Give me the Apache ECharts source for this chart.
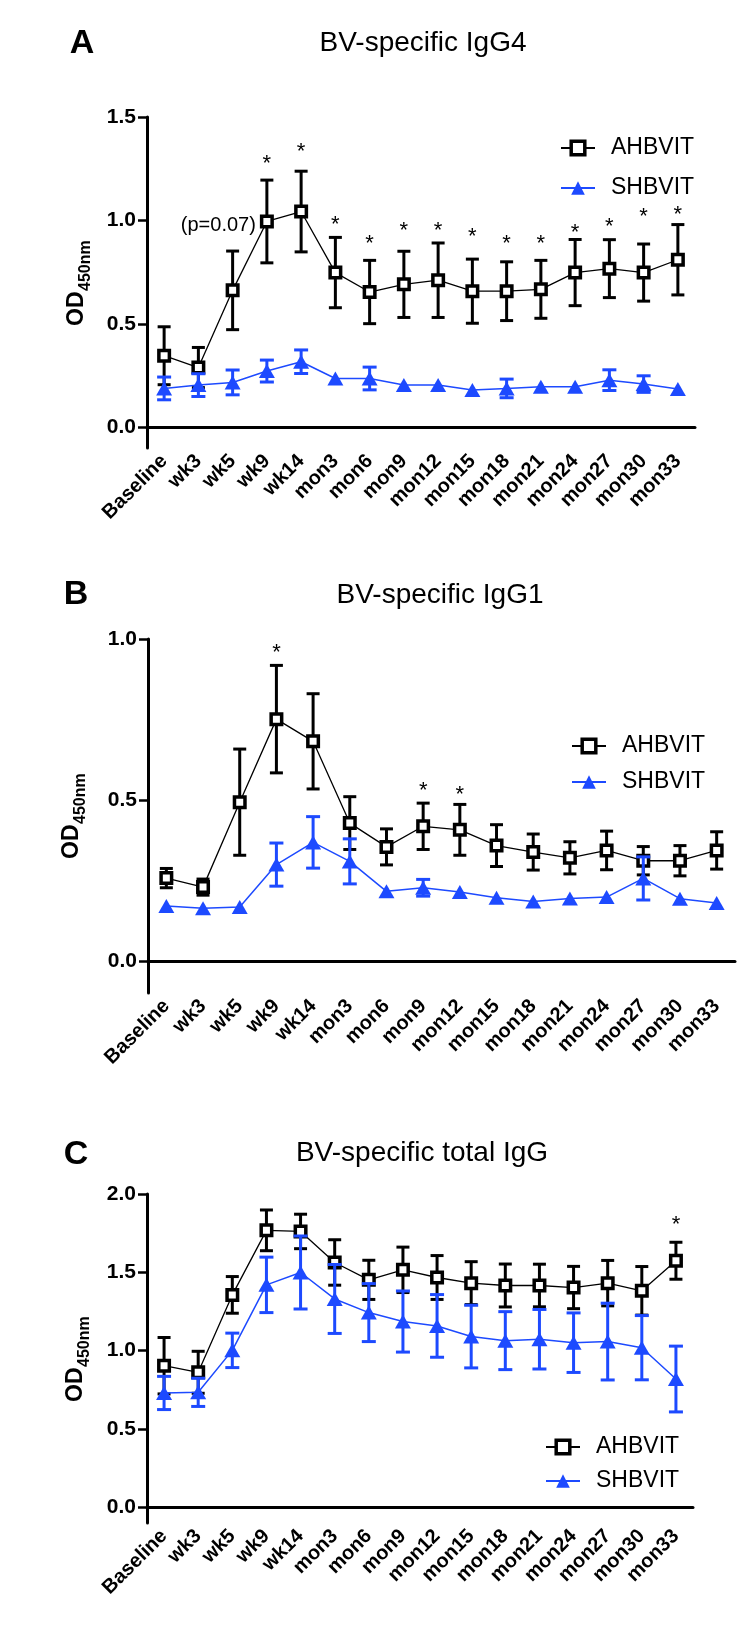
<!DOCTYPE html>
<html><head><meta charset="utf-8">
<script src="https://cdn.jsdelivr.net/npm/echarts@6/dist/echarts.min.js"></script>
<style>html,body{margin:0;padding:0;background:#fff}#c{width:750px;height:1635px}</style>
</head><body><div id="c"></div>
<script>
const categories = ['Baseline','wk3','wk5','wk9','wk14','mon3','mon6','mon9','mon12','mon15','mon18','mon21','mon24','mon27','mon30','mon33'];

// Panel A: BV-specific IgG4
const igg4AH = [0.346,0.289,0.662,0.995,1.043,0.748,0.654,0.691,0.711,0.658,0.658,0.667,0.748,0.767,0.748,0.810];
const igg4AHerr = [0.140,0.097,0.190,0.200,0.195,0.170,0.153,0.160,0.180,0.155,0.142,0.140,0.160,0.140,0.138,0.170];
const igg4SH = [0.188,0.204,0.217,0.272,0.317,0.236,0.236,0.204,0.204,0.180,0.188,0.196,0.196,0.228,0.209,0.185];
const igg4SHerr = [0.055,0.055,0.060,0.053,0.057,0,0.055,0,0,0,0.045,0,0,0.050,0.040,0];
const igg4Stars = [null,null,null,1.295,1.356,1.003,0.910,0.971,0.971,0.944,0.912,0.910,0.966,0.995,1.043,1.051];
const igg4Note = ['wk9', 0.975, '(p=0.07)'];
const igg4Ticks = [0, 0.5, 1.0, 1.5];

// Panel B: BV-specific IgG1
const igg1AH = [0.257,0.229,0.493,0.751,0.682,0.428,0.354,0.418,0.407,0.358,0.338,0.320,0.343,0.311,0.311,0.343];
const igg1AHerr = [0.030,0.025,0.165,0.167,0.148,0.082,0.056,0.072,0.079,0.065,0.056,0.050,0.060,0.044,0.047,0.058];
const igg1SH = [0.170,0.163,0.167,0.299,0.368,0.309,0.216,0.227,0.214,0.196,0.184,0.194,0.198,0.256,0.193,0.180];
const igg1SHerr = [0,0,0,0.067,0.080,0.070,0,0.026,0,0,0,0,0,0.067,0,0];
const igg1Stars = [null,null,null,0.972,null,null,null,0.543,0.531,null,null,null,null,null,null,null];
const igg1Ticks = [0, 0.5, 1.0];

// Panel C: BV-specific total IgG
const iggAH = [0.904,0.862,1.356,1.768,1.761,1.563,1.452,1.516,1.467,1.431,1.416,1.416,1.403,1.431,1.382,1.574];
const iggAHerr = [0.180,0.134,0.117,0.130,0.110,0.145,0.125,0.145,0.140,0.137,0.137,0.136,0.135,0.145,0.155,0.118];
const iggSH = [0.730,0.734,1.002,1.420,1.499,1.330,1.243,1.186,1.158,1.090,1.064,1.073,1.051,1.058,1.019,0.819];
const iggSHerr = [0.106,0.090,0.110,0.177,0.233,0.220,0.185,0.195,0.200,0.200,0.185,0.190,0.190,0.245,0.205,0.210];
const iggStars = [null,null,null,null,null,null,null,null,null,null,null,null,null,null,null,1.836];
const iggTicks = [0, 0.5, 1.0, 1.5, 2.0];

const seriesNames = ['AHBVIT', 'SHBVIT'];
const panelTitles = ['BV-specific IgG4', 'BV-specific IgG1', 'BV-specific total IgG'];
const panelLetters = ['A', 'B', 'C'];

const FONT = '"Liberation Sans", Arial, Helvetica, sans-serif';
const BLUE = '#1d4aff';
const BLACK = '#000';

function errRender(capHalf, color, width) {
  return function (params, api) {
    const x = api.value(0), m = api.value(1), e = api.value(2);
    if (!e) return null;
    const t = api.coord([x, m + e]);
    const b = api.coord([x, m - e]);
    const style = { stroke: color, lineWidth: width };
    return { type: 'group', children: [
      { type: 'line', shape: { x1: t[0], y1: t[1], x2: b[0], y2: b[1] }, style },
      { type: 'line', shape: { x1: t[0] - capHalf, y1: t[1], x2: t[0] + capHalf, y2: t[1] }, style },
      { type: 'line', shape: { x1: b[0] - capHalf, y1: b[1], x2: b[0] + capHalf, y2: b[1] }, style }
    ]};
  };
}
function starRender(params, api) {
  const p = api.coord([api.value(0), api.value(1)]);
  return { type: 'text', x: p[0], y: p[1] + 5, style: { text: '*', font: '22px ' + FONT, fill: BLACK, textAlign: 'center', textVerticalAlign: 'middle' } };
}
function toErr(mean, err) { return mean.map((v, i) => [i, v, err[i]]); }
function toStars(arr) { const out = []; arr.forEach((v, i) => { if (v != null) out.push([i, v]); }); return out; }

const grids = [
  { left: 147, right: 55, top: 117, height: 331 },
  { left: 148, right: 15, top: 639, height: 354 },
  { left: 147, right: 57, top: 1194, height: 329 }
];
const yMax = [1.5, 1.0, 2.0];
const yTicks = [igg4Ticks, igg1Ticks, iggTicks];
const panels = [
  [igg4AH, igg4AHerr, igg4SH, igg4SHerr, igg4Stars],
  [igg1AH, igg1AHerr, igg1SH, igg1SHerr, igg1Stars],
  [iggAH, iggAHerr, iggSH, iggSHerr, iggStars]
];

const xAxes = grids.map((g, i) => ({
  type: 'category', gridIndex: i, data: categories, boundaryGap: true,
  axisLine: { lineStyle: { color: BLACK, width: 3 } },
  axisTick: { alignWithLabel: true, length: 8, lineStyle: { color: BLACK, width: 2.5 } },
  axisLabel: { rotate: 45, margin: 10, color: BLACK, fontFamily: FONT, fontWeight: 'bold', fontSize: 20, interval: 0 },
  splitLine: { show: false }
}));
const yAxes = grids.map((g, i) => ({
  type: 'value', gridIndex: i, min: -0.1, max: yMax[i],
  axisLine: { show: true, lineStyle: { color: BLACK, width: 3 } },
  axisTick: { show: true, length: 9, customValues: yTicks[i], lineStyle: { color: BLACK, width: 2.5 } },
  axisLabel: { customValues: yTicks[i], margin: 11, color: BLACK, fontFamily: FONT, fontWeight: 'bold', fontSize: 21, formatter: v => v.toFixed(1) },
  splitLine: { show: false }
}));

const squareStyle = { color: '#fff', borderColor: BLACK, borderWidth: 3.5 };
const series = [];
panels.forEach((p, i) => {
  series.push({ type: 'custom', xAxisIndex: i, yAxisIndex: i, z: 2, renderItem: errRender(6.5, BLACK, 3), data: toErr(p[0], p[1]), silent: true });
  series.push({ type: 'line', name: seriesNames[0], xAxisIndex: i, yAxisIndex: i, z: 3, data: p[0],
    symbol: 'rect', symbolSize: 10.5, lineStyle: { color: BLACK, width: 1.3 },
    itemStyle: squareStyle });
  series.push({ type: 'custom', xAxisIndex: i, yAxisIndex: i, z: 4, renderItem: errRender(7, BLUE, 3), data: toErr(p[2], p[3]), silent: true });
  series.push({ type: 'line', name: seriesNames[1], xAxisIndex: i, yAxisIndex: i, z: 5, data: p[2],
    symbol: 'triangle', symbolSize: [16, 14], lineStyle: { color: BLUE, width: 1.5 },
    itemStyle: { color: BLUE } });
  series.push({ type: 'custom', xAxisIndex: i, yAxisIndex: i, z: 6, renderItem: starRender, data: toStars(p[4]), silent: true });
});
series.push({ type: 'custom', xAxisIndex: 0, yAxisIndex: 0, z: 6, silent: true,
  data: [[categories.indexOf(igg4Note[0]), igg4Note[1]]],
  renderItem: function (params, api) {
    const pt = api.coord([api.value(0), api.value(1)]);
    return { type: 'text', x: pt[0] - 11, y: pt[1], style: { text: igg4Note[2], font: '20px ' + FONT, fill: BLACK, textAlign: 'right', textVerticalAlign: 'middle' } };
  } });

const legendPos = [ { left: 555, top: 131, gap: 16 }, { left: 566, top: 729, gap: 12 }, { left: 540, top: 1430, gap: 10 } ];
const legends = legendPos.map(l => ({
  data: [ { name: seriesNames[0], itemStyle: { color: '#fff', borderColor: BLACK, borderWidth: 3.5 } },
          { name: seriesNames[1], lineStyle: { width: 2 } } ],
  orient: 'vertical', left: l.left, top: l.top, itemWidth: 34, itemHeight: 17, itemGap: l.gap,
  selectedMode: false,
  textStyle: { fontSize: 23, fontFamily: FONT, color: BLACK, padding: [0, 0, 0, 11], lineHeight: 24 }
}));

const headerPos = [ { lx: 82, ly: 44, tx: 423, ty: 43, oy: 283, ox: 77 },
                    { lx: 76, ly: 595, tx: 440, ty: 595, oy: 816, ox: 72 },
                    { lx: 76, ly: 1155, tx: 422, ty: 1153, oy: 1359, ox: 76 } ];
const graphics = [];
headerPos.forEach((h, i) => {
  graphics.push({ type: 'text', x: h.lx, y: h.ly, style: { text: panelLetters[i], font: 'bold 34px ' + FONT, fill: BLACK, textAlign: 'center', textVerticalAlign: 'middle' } });
  graphics.push({ type: 'text', x: h.tx, y: h.ty, style: { text: panelTitles[i], font: '28px ' + FONT, fill: BLACK, textAlign: 'center', textVerticalAlign: 'middle' } });
  graphics.push({ type: 'group', x: h.ox, y: h.oy, rotation: Math.PI / 2, children: [
    { type: 'text', x: -43, y: 0, style: { text: 'OD', font: 'bold 23px ' + FONT, fill: BLACK, textAlign: 'left', textVerticalAlign: 'middle' } },
    { type: 'text', x: -8, y: 9, style: { text: '450nm', font: 'bold 16px ' + FONT, fill: BLACK, textAlign: 'left', textVerticalAlign: 'middle' } }
  ]});
});

const chart = echarts.init(document.getElementById('c'), null, { renderer: 'canvas' });
chart.setOption({
  animation: false,
  backgroundColor: '#fff',
  grid: grids,
  xAxis: xAxes,
  yAxis: yAxes,
  legend: legends,
  series: series,
  graphic: graphics
});
</script></body></html>
